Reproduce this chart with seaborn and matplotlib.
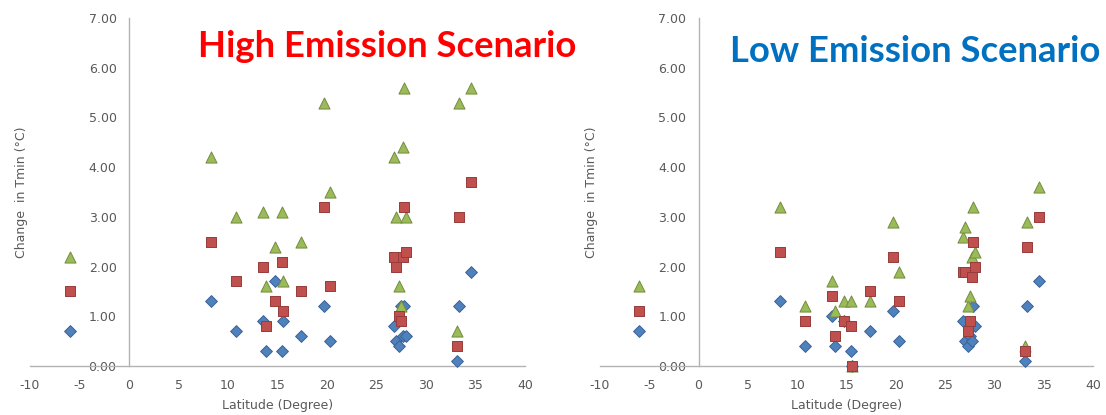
import matplotlib
matplotlib.use("Agg")
import matplotlib.pyplot as plt
import seaborn as sns

# Station latitudes (degrees) shared by both scenarios
latitude = [-6.0, 8.3, 10.8, 13.5, 13.8, 14.7, 15.5, 15.6, 17.4, 19.7, 20.3,
            26.8, 27.0, 27.3, 27.5, 27.7, 27.8, 28.0, 33.1, 33.3, 34.5]

# Change in minimum temperature (°C), high emission scenario
high_near = [0.7, 1.3, 0.7, 0.9, 0.3, 1.7, 0.3, 0.9, 0.6, 1.2, 0.5,
             0.8, 0.5, 0.4, 1.2, 0.6, 1.2, 0.6, 0.1, 1.2, 1.9]
high_mid = [1.5, 2.5, 1.7, 2.0, 0.8, 1.3, 2.1, 1.1, 1.5, 3.2, 1.6,
            2.2, 2.0, 1.0, 0.9, 2.2, 3.2, 2.3, 0.4, 3.0, 3.7]
high_far = [2.2, 4.2, 3.0, 3.1, 1.6, 2.4, 3.1, 1.7, 2.5, 5.3, 3.5,
            4.2, 3.0, 1.6, 1.2, 4.4, 5.6, 3.0, 0.7, 5.3, 5.6]

# Change in minimum temperature (°C), low emission scenario
low_near = [0.7, 1.3, 0.4, 1.0, 0.4, 0.9, 0.3, 0.0, 0.7, 1.1, 0.5,
            0.9, 0.5, 0.4, 0.6, 0.5, 1.2, 0.8, 0.1, 1.2, 1.7]
low_mid = [1.1, 2.3, 0.9, 1.4, 0.6, 0.9, 0.8, 0.0, 1.5, 2.2, 1.3,
           1.9, 1.9, 0.7, 0.9, 1.8, 2.5, 2.0, 0.3, 2.4, 3.0]
low_far = [1.6, 3.2, 1.2, 1.7, 1.1, 1.3, 1.3, 0.0, 1.3, 2.9, 1.9,
           2.6, 2.8, 1.2, 1.4, 2.2, 3.2, 2.3, 0.4, 2.9, 3.6]

x_ticks = [-10, -5, 0, 5, 10, 15, 20, 25, 30, 35, 40]
y_ticks = [0, 1, 2, 3, 4, 5, 6, 7]

sns.set_style("white")
plt.rcParams["font.family"] = ["DejaVu Sans"]

fig = plt.figure(figsize=(11.06, 4.15), dpi=100)
W, H = 1106, 415
ax_high = fig.add_axes([30 / W, 49 / H, 495 / W, 348 / H])
ax_low = fig.add_axes([600 / W, 49 / H, 493 / W, 348 / H])

# marker, size, face, edge for each horizon (drawn bottom to top)
styles = [
    ("D", 36, "#4F81BD", "#3A6396"),
    ("^", 64, "#9BBB59", "#738C40"),
    ("s", 58, "#C0504D", "#963C3A"),
]

panels = [
    (ax_high, [high_near, high_far, high_mid]),
    (ax_low, [low_near, low_far, low_mid]),
]

axis_grey = "#B3B3B3"
text_grey = "#595959"

for ax, series in panels:
    for vals, (mk, sz, fc, ec) in zip(series, styles):
        sns.scatterplot(x=latitude, y=vals, marker=mk, s=sz, color=fc,
                        edgecolor=ec, linewidth=0.7, ax=ax, clip_on=False,
                        zorder=3, legend=False)
    ax.set_xlim(-10, 40)
    ax.set_ylim(0, 7)
    ax.set_xticks(x_ticks)
    ax.set_xticklabels([str(t) for t in x_ticks])
    ax.set_yticks(y_ticks)
    ax.set_yticklabels([f"{t:.2f}" for t in y_ticks])
    for side in ("top", "right"):
        ax.spines[side].set_visible(False)
    ax.spines["left"].set_position(("data", 0))
    ax.spines["bottom"].set_position(("data", 0))
    for side in ("left", "bottom"):
        ax.spines[side].set_color(axis_grey)
        ax.spines[side].set_linewidth(1.0)
    ax.tick_params(axis="both", direction="out", length=2.5, width=0.8,
                   color=axis_grey, labelsize=9, labelcolor=text_grey)
    ax.tick_params(axis="y", pad=6.5)
    ax.tick_params(axis="x", pad=7)
    ax.set_xlabel("Latitude (Degree)", fontsize=9, color=text_grey)
    ax.set_ylabel("Change  in Tmin (°C)", fontsize=9, color=text_grey)
    ax.xaxis.set_label_coords(0.5, -0.095)
    ax.yaxis.set_label_coords(-0.004, 0.5)
    ax.patch.set_alpha(0)

fig.text(387 / W, 1 - 57 / H, "High Emission Scenario", color="#FF0000",
         fontsize=26.3, fontweight="bold", family="Lato",
         ha="center", va="baseline")
fig.text(915 / W, 1 - 62 / H, "Low Emission Scenario", color="#0070C0",
         fontsize=26.3, fontweight="bold", family="Lato",
         ha="center", va="baseline")

fig.savefig("out.png", dpi=100, facecolor="white")
